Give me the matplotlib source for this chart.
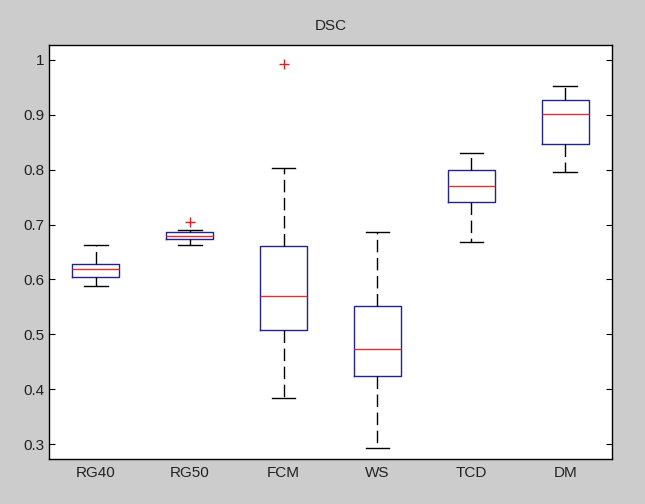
import matplotlib
matplotlib.use("Agg")
import matplotlib.pyplot as plt

plt.rcParams['font.family'] = ['Liberation Sans', 'DejaVu Sans']
plt.rcParams['lines.scale_dashes'] = False

methods = ["RG40", "RG50", "FCM", "WS", "TCD", "DM"]
whis_lo = [0.589, 0.662, 0.384, 0.293, 0.669, 0.795]
q1 = [0.604, 0.674, 0.508, 0.424, 0.741, 0.847]
medians = [0.619, 0.680, 0.570, 0.474, 0.771, 0.902]
q3 = [0.628, 0.686, 0.661, 0.551, 0.799, 0.927]
whis_hi = [0.662, 0.690, 0.803, 0.687, 0.830, 0.953]
outliers = [[], [0.705], [0.993], [], [], []]

stats = []
for i in range(len(methods)):
    stats.append({"label": methods[i], "whislo": whis_lo[i], "q1": q1[i],
                  "med": medians[i], "q3": q3[i], "whishi": whis_hi[i],
                  "fliers": outliers[i]})

fig = plt.figure(figsize=(6.45, 5.04), dpi=100, facecolor="#cccccc")
ax = fig.add_axes([0.076, 0.089, 0.873, 0.822])

ax.bxp(stats, widths=0.5, capwidths=0.25, showfliers=True,
       boxprops=dict(color="#23238f", linewidth=1.0),
       medianprops=dict(color="#e03030", linewidth=1.0),
       whiskerprops=dict(color="black", linewidth=1.0, linestyle=(0, (9, 4))),
       capprops=dict(color="black", linewidth=1.0),
       flierprops=dict(marker="+", markeredgecolor="#e02020", markersize=7,
                       markeredgewidth=1.0, linestyle="none"))

ax.set_xlim(0.5, 6.5)
ax.set_ylim(0.273, 1.027)
ax.set_yticks([0.3, 0.4, 0.5, 0.6, 0.7, 0.8, 0.9, 1])
ax.set_yticklabels(["0.3", "0.4", "0.5", "0.6", "0.7", "0.8", "0.9", "1"])
ax.tick_params(axis="y", direction="in", right=True, length=4, labelsize=11,
               labelcolor="#222222")
ax.tick_params(axis="x", length=0, labelsize=11, pad=5, labelcolor="#222222")
for s in ax.spines.values():
    s.set_linewidth(1.0)
    s.set_color("black")
ax.set_title("DSC", fontsize=11, pad=11, color="#222222")

fig.savefig("out.png", dpi=100, facecolor=fig.get_facecolor())
